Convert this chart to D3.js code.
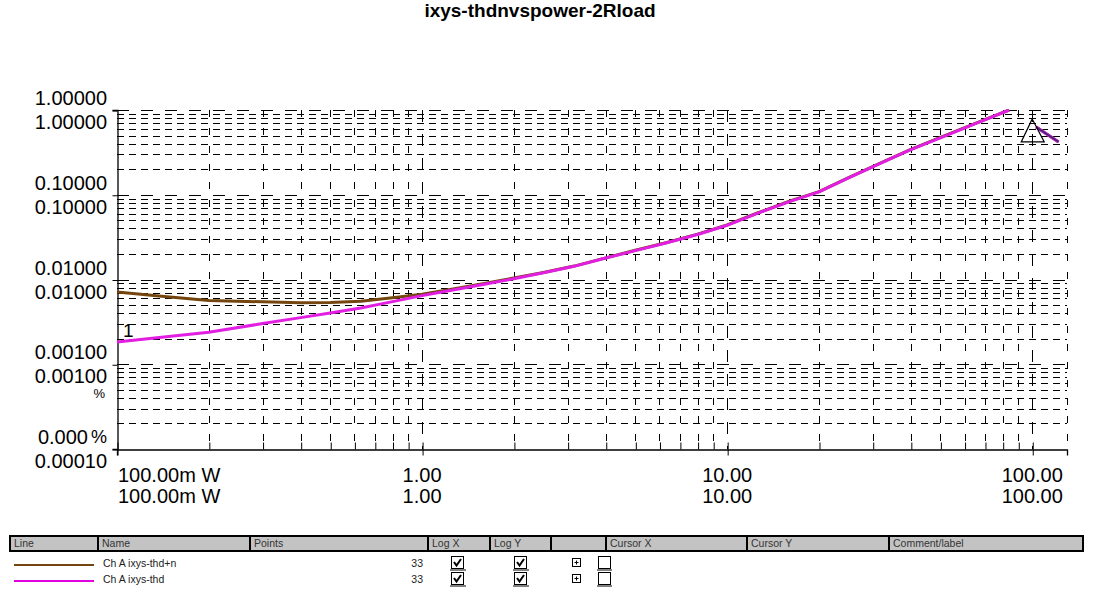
<!DOCTYPE html>
<html><head><meta charset="utf-8">
<script src="https://cdn.jsdelivr.net/npm/d3@7"></script>
<style>
body{margin:0;background:#fff}
svg{display:block;font-family:Arial,"Liberation Sans",sans-serif}
</style>
</head><body>
<svg id="c" width="1094" height="616"></svg>
<script>
// ---------- data ----------
const power = [0.1, 0.14, 0.2, 0.3, 0.4, 0.5, 0.63, 0.8, 1.0, 1.25, 1.6, 2.0, 2.5, 3.15, 4.0, 5.0, 6.3, 8.0, 10, 12.5, 16, 20, 25, 31.5, 40, 50, 63, 84, 89, 94, 98, 103, 122];
const thdn = [0.0071, 0.00635, 0.00566, 0.00545, 0.00532, 0.00535, 0.00555, 0.0061, 0.00668, 0.0077, 0.0090, 0.0104, 0.0121, 0.0144, 0.0180, 0.0221, 0.0272, 0.0343, 0.0440, 0.0605, 0.0838, 0.109, 0.159, 0.233, 0.343, 0.474, 0.664, 1.0, null, null, null, 0.63, 0.42];
const thd = [0.00183, 0.00208, 0.00238, 0.00302, 0.00355, 0.00403, 0.0046, 0.00548, 0.00645, 0.00748, 0.00881, 0.0102, 0.0120, 0.0143, 0.0179, 0.0219, 0.0270, 0.0340, 0.0436, 0.0600, 0.083, 0.108, 0.158, 0.231, 0.340, 0.47, 0.658, 1.0, null, null, null, 0.63, 0.42];
const yDecades = [1, 0.1, 0.01, 0.001, 0.0001];
const yLabelsUpper = ["1.00000", "0.10000", "0.01000", "0.00100", "0.000"];
const yLabelsLower = ["1.00000", "0.10000", "0.01000", "0.00100", "0.00010"];
const xDecades = [0.1, 1, 10, 100];
const xLabels = ["100.00m W", "1.00", "10.00", "100.00"];
const unitLabel = "%";
const title = "ixys-thdnvspower-2Rload";
const seriesNames = ["Ch A ixys-thd+n", "Ch A ixys-thd"];
const seriesPoints = [33, 33];
const tableHeaders = ["Line", "Name", "Points", "Log X", "Log Y", "", "Cursor X", "Cursor Y", "Comment/label"];
const cursorMarker = { x: 100, y: 0.42 };

// ---------- layout ----------
const svg = d3.select("#c");
const L = 117, R = 1067, T = 110, B = 449;
const x = d3.scaleLog().domain([0.1, 130]).range([L, R]);
const y = d3.scaleLog().domain([0.0001, 1]).range([B, T]);
const cx = v => Math.round(x(v)) + 0.5;
const cy = v => Math.round(y(v)) + 0.5;
const brown = "#74450f", magenta = "#e21ee2";

svg.append("text").attr("x", 540).attr("y", 17).attr("text-anchor", "middle")
  .attr("font-size", 19).attr("font-weight", "bold").text(title);

// ---------- grid ----------
const grid = svg.append("g").attr("shape-rendering", "crispEdges");
const xMinor = x.ticks().filter(v => v > 0.1 && v <= 130);
const isDec = v => Math.abs(Math.log10(v) - Math.round(Math.log10(v))) < 1e-6;
xMinor.concat([130]).forEach(v => {
  grid.append("line").attr("x1", cx(v)).attr("x2", cx(v)).attr("y1", T).attr("y2", B)
    .attr("stroke", "#000").attr("stroke-width", 1)
    .attr("stroke-dasharray", isDec(v) ? "12,12" : "7,11");
});
const yMinor = y.ticks().filter(v => v > 0.0001 && v <= 1);
yMinor.forEach(v => {
  grid.append("line").attr("x1", L).attr("x2", R).attr("y1", cy(v)).attr("y2", cy(v))
    .attr("stroke", "#000").attr("stroke-width", 1)
    .attr("stroke-dasharray", isDec(v) ? "12,12" : "7,5");
});

// ---------- axes ----------
const yAxis = svg.append("g").attr("transform", `translate(${L + 0.5},0)`)
  .call(d3.axisLeft(y).tickValues(yDecades).tickSize(5).tickFormat(""));
yAxis.selectAll(".tick line").attr("transform", "translate(0,0.5)");
const xAxis = svg.append("g").attr("transform", `translate(0,${B + 0.5})`)
  .call(d3.axisBottom(x).tickValues(xDecades).tickSize(6).tickFormat(""));
xAxis.selectAll(".tick line").attr("transform", "translate(0.5,0)");
const xAxisMinor = svg.append("g").attr("transform", `translate(0,${B + 0.5})`)
  .call(d3.axisBottom(x).tickValues(x.ticks().filter(v => v >= 0.1 && v <= 100)).tickSize(-7).tickFormat(""));
xAxisMinor.select(".domain").remove();
xAxisMinor.selectAll(".tick line").attr("transform", "translate(0.5,0)");
[yAxis, xAxis].forEach(g => g.select(".domain").attr("stroke-width", 1.3));

// y labels
const ylab = svg.append("g").attr("font-size", 20).attr("text-anchor", "end");
yDecades.forEach((v, i) => {
  ylab.append("text").attr("x", i === 4 ? 88 : 107).attr("y", y(v) - 5).text(yLabelsUpper[i]);
  ylab.append("text").attr("x", 107).attr("y", y(v) + 19).text(yLabelsLower[i]);
});
// unit labels
svg.append("text").attr("x", 107).attr("y", 443).attr("text-anchor", "end").attr("font-size", 18).text(unitLabel);
svg.append("clipPath").attr("id", "pc").append("rect").attr("x", 80).attr("y", 389).attr("width", 30).attr("height", 12);
svg.append("text").attr("x", 105).attr("y", 398).attr("text-anchor", "end").attr("font-size", 13)
  .attr("clip-path", "url(#pc)").text(unitLabel);

// x labels
const xlab = svg.append("g").attr("font-size", 20);
xDecades.forEach((v, i) => {
  [482, 503].forEach(yy => {
    xlab.append("text").attr("x", i === 0 ? x(v) + 1 : x(v))
      .attr("y", yy).attr("text-anchor", i === 0 ? "start" : "middle").text(xLabels[i]);
  });
});

// ---------- curves ----------
svg.append("clipPath").attr("id", "plot").append("rect")
  .attr("x", L).attr("y", T - 1).attr("width", R - L).attr("height", B - T + 1);
const line = vals => d3.line().defined((d, i) => vals[i] != null)
  .x((d, i) => x(power[i])).y((d, i) => y(vals[i]))(power);
const curves = svg.append("g").attr("clip-path", "url(#plot)").attr("fill", "none")
  .attr("stroke-linejoin", "round");
curves.append("path").attr("d", line(thdn)).attr("stroke", brown).attr("stroke-width", 3);
curves.append("path").attr("d", line(thd)).attr("stroke", magenta).attr("stroke-width", 3);
// tail segment where both traces coincide
const tailIdx = power.map((p, i) => i).filter(i => i >= 31);
curves.append("path").attr("d", d3.line().x(i => x(power[i])).y(i => y(thdn[i]))(tailIdx))
  .attr("stroke", "#3c2a78").attr("stroke-width", 1.6);

svg.append("text").attr("x", 123).attr("y", 337).attr("font-size", 19).text("1");

// cursor marker triangle at 100 W
const tx = x(cursorMarker.x), ty = y(cursorMarker.y);
svg.append("path").attr("d", `M${tx},${ty - 23} L${tx + 12},${ty} L${tx - 11},${ty} Z`)
  .attr("fill", "none").attr("stroke", "#000").attr("stroke-width", 1.2);

// ---------- table ----------
const colX = [10, 98, 250, 428, 490, 551, 606, 747, 889, 1083];
const tb = svg.append("g").attr("font-size", 10.5).attr("font-family", "Arial, 'Liberation Sans', sans-serif");
tb.append("rect").attr("x", colX[0]).attr("y", 536).attr("width", colX[9] - colX[0]).attr("height", 15)
  .attr("fill", "#c3c3c3").attr("stroke", "#000").attr("stroke-width", 2);
colX.slice(1, 9).forEach(cxp => tb.append("line").attr("x1", cxp).attr("x2", cxp).attr("y1", 536).attr("y2", 551)
  .attr("stroke", "#000").attr("stroke-width", 2));
tableHeaders.forEach((h, i) => tb.append("text").attr("x", colX[i] + 4).attr("y", 547).attr("fill", "#333").text(h));

const rowY = [563, 579];
const rowColors = [brown, "#e000e0"];
rowY.forEach((ry, r) => {
  tb.append("line").attr("x1", 14).attr("x2", 94).attr("y1", ry + 2).attr("y2", ry + 2)
    .attr("stroke", rowColors[r]).attr("stroke-width", 1.2).attr("shape-rendering", "crispEdges");
  tb.append("text").attr("x", 103).attr("y", ry + 3.5).attr("fill", "#222").text(seriesNames[r]);
  tb.append("text").attr("x", 423).attr("y", ry + 3.5).attr("text-anchor", "end").attr("fill", "#222").text(seriesPoints[r]);
  [451, 514].forEach(bx => {
    tb.append("rect").attr("x", bx + 0.5).attr("y", ry - 6.5).attr("width", 12).attr("height", 12)
      .attr("fill", "#fff").attr("stroke", "#000").attr("stroke-width", 1);
    tb.append("line").attr("x1", bx - 1).attr("x2", bx + 15).attr("y1", ry + 7).attr("y2", ry + 7).attr("stroke", "#000");
    tb.append("path").attr("d", `M${bx + 3},${ry - 1} L${bx + 5.5},${ry + 2.5} L${bx + 10},${ry - 4}`)
      .attr("fill", "none").attr("stroke", "#000").attr("stroke-width", 2);
  });
  tb.append("rect").attr("x", 572.5).attr("y", ry - 4.5).attr("width", 8).attr("height", 8)
    .attr("fill", "#fff").attr("stroke", "#000");
  tb.append("path").attr("d", `M574.5,${ry - 0.5} H578.5 M576.5,${ry - 2.5} V${ry + 1.5}`).attr("stroke", "#000");
  tb.append("rect").attr("x", 598.5).attr("y", ry - 6.5).attr("width", 12).attr("height", 12)
    .attr("fill", "#fff").attr("stroke", "#000");
  tb.append("line").attr("x1", 597).attr("x2", 612).attr("y1", ry + 7).attr("y2", ry + 7).attr("stroke", "#000");
});
</script>
</body></html>
